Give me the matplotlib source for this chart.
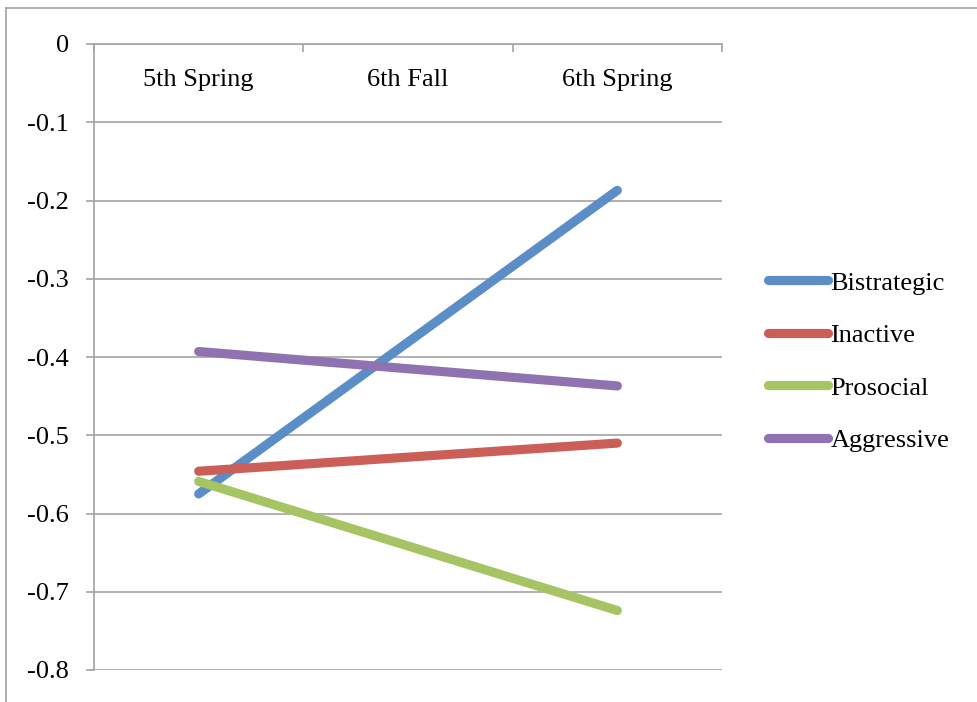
import numpy as np
import matplotlib
matplotlib.use("Agg")
import matplotlib.pyplot as plt
from matplotlib.lines import Line2D

plt.rcParams['font.family'] = ['Liberation Serif', 'DejaVu Serif']
plt.rcParams['axes.unicode_minus'] = False

# data (6th Fall has no value; Excel bridges the gap)
categories = ['5th Spring', '6th Fall', '6th Spring']
bistrategic = [-0.575, np.nan, -0.187]
inactive = [-0.546, np.nan, -0.510]
prosocial = [-0.559, np.nan, -0.724]
aggressive = [-0.393, np.nan, -0.437]
series_names = ['Bistrategic', 'Inactive', 'Prosocial', 'Aggressive']
series_values = [bistrategic, inactive, prosocial, aggressive]
colors = ['#5B8EC7', '#CB5F57', '#A6C464', '#8E73B0']
yticks = [0, -0.1, -0.2, -0.3, -0.4, -0.5, -0.6, -0.7, -0.8]

grid_c = '#A3A3A3'
fs = 19

fig = plt.figure(figsize=(9.78, 7.02), dpi=100)
ax = fig.add_axes([94 / 978, 32 / 702, 628 / 978, 626 / 702])

x = np.arange(len(categories))
for name, vals, c in zip(series_names, series_values, colors):
    v = np.array(vals, dtype=float)
    ok = np.isfinite(v)
    ax.plot(x[ok], v[ok], color=c, lw=6.6, solid_capstyle='round', label=name)

ax.set_xlim(-0.5, len(categories) - 0.5)
ax.set_ylim(-0.8, 0)

# value axis
ax.set_yticks(yticks)
ax.set_yticklabels([f'{v:g}' for v in yticks], fontsize=fs)
ax.tick_params(axis='y', length=6, width=1.2, color=grid_c, pad=12)
ax.yaxis.grid(True, color=grid_c, lw=1.2)
ax.set_axisbelow(True)

# category axis sits at y=0 (top)
ax.xaxis.set_ticks_position('top')
ax.set_xticks(np.arange(len(categories) + 1) - 0.5)
ax.set_xticklabels([])
ax.tick_params(axis='x', direction='in', length=6, width=1.2, color=grid_c)
for i, cat in enumerate(categories):
    ax.text(i, -0.0455, cat, ha='center', va='center', fontsize=fs)

for side in ['right', 'bottom']:
    ax.spines[side].set_visible(False)
for side in ['left', 'top']:
    ax.spines[side].set_color(grid_c)
    ax.spines[side].set_linewidth(1.2)

ax.legend(loc='center left', bbox_to_anchor=(768 / 978, 0.485),
          bbox_transform=fig.transFigure, frameon=False, fontsize=fs,
          handlelength=2.27, handletextpad=0.1, labelspacing=1.1,
          borderpad=0, borderaxespad=0)

# chart area border (partly cropped in the reference)
fig.add_artist(Line2D([6 / 978, 6 / 978], [0, 1 - 8 / 702], transform=fig.transFigure,
                      color=grid_c, lw=1.2))
fig.add_artist(Line2D([6 / 978, 1], [1 - 8 / 702, 1 - 8 / 702], transform=fig.transFigure,
                      color=grid_c, lw=1.2))

fig.savefig('out.png', dpi=100)
